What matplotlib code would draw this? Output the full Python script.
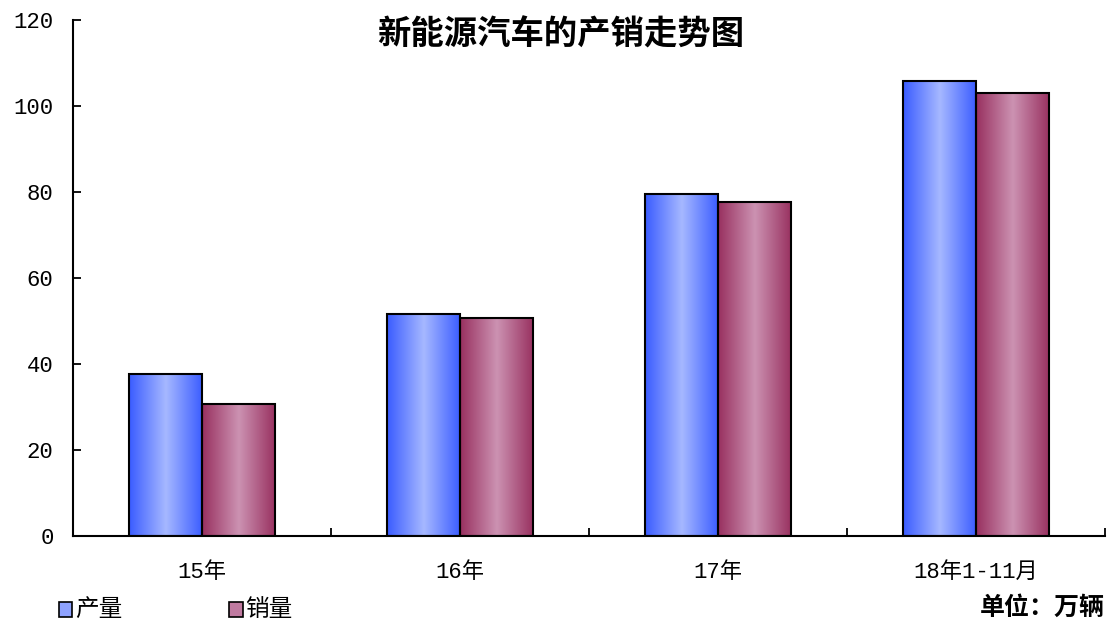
import numpy as np
import matplotlib
matplotlib.use('Agg')
import matplotlib.pyplot as plt
from matplotlib.colors import LinearSegmentedColormap
from matplotlib.patches import Rectangle

plt.rcParams['font.family'] = ['Noto Sans CJK SC', 'DejaVu Sans']

categorias = ['15年', '16年', '17年', '18年1-11月']
producao = [37.7, 51.6, 79.5, 105.8]   # 产量
vendas = [30.7, 50.7, 77.7, 103.0]     # 销量
yticks = [0, 20, 40, 60, 80, 100, 120]

# gradientes das barras (borda escura, centro claro)
cmap_azul = LinearSegmentedColormap.from_list('azul', ['#3a5cff', '#a6b8ff', '#3a5cff'])
cmap_vinho = LinearSegmentedColormap.from_list('vinho', ['#98305f', '#cc92b2', '#98305f'])

fonte_eixo = ['Liberation Mono', 'Noto Sans CJK SC']

fig = plt.figure(figsize=(11.1, 6.26), dpi=100)
ax = fig.add_axes([0.0658, 0.1438, 0.9297, 0.8242])

x = np.arange(len(categorias))
larg = 0.283
grad = np.linspace(0, 1, 256).reshape(1, -1)

def barras_gradiente(pos, valores, cmap):
    bars = ax.bar(pos, valores, width=larg, color='none', edgecolor='black', linewidth=1.5, zorder=3)
    for b in bars:
        x0, y0 = b.get_x(), b.get_y()
        w, h = b.get_width(), b.get_height()
        im = ax.imshow(grad, cmap=cmap, aspect='auto', extent=[x0, x0 + w, y0, y0 + h], zorder=2)
        clip = Rectangle((x0, y0), w, h, transform=ax.transData)
        im.set_clip_path(clip)
    return bars

barras_gradiente(x - larg / 2, producao, cmap_azul)
barras_gradiente(x + larg / 2, vendas, cmap_vinho)

ax.set_xlim(-0.5, len(categorias) - 0.5)
ax.set_ylim(0, 120)
ax.set_yticks(yticks)
ax.set_yticklabels([str(v) for v in yticks], fontsize=16, family=fonte_eixo)
ax.tick_params(axis='y', direction='in', length=6, width=1.3, pad=14)

# ticks de separacao (maiores) e rotulos das categorias (menores)
ax.set_xticks(np.arange(0.5, len(categorias), 1.0))
ax.set_xticklabels([])
ax.tick_params(axis='x', which='major', direction='in', length=6, width=1.3)
ax.set_xticks(x, minor=True)
ax.set_xticklabels(categorias, minor=True, fontsize=16, family=fonte_eixo)
ax.tick_params(axis='x', which='minor', length=0, pad=19)

for s in ['top', 'right']:
    ax.spines[s].set_visible(False)
ax.spines['left'].set_linewidth(1.5)
ax.spines['bottom'].set_linewidth(1.5)

fig.text(0.505, 0.944, '新能源汽车的产销走势图', ha='center', va='center', fontsize=24, fontweight='bold')

# legenda embaixo
fig.patches.append(Rectangle((0.053, 0.014), 0.012, 0.024, transform=fig.transFigure,
                             facecolor='#8ea2ff', edgecolor='black', linewidth=1.2))
fig.text(0.068, 0.026, '产量', ha='left', va='center', fontsize=17)
fig.patches.append(Rectangle((0.2065, 0.014), 0.012, 0.024, transform=fig.transFigure,
                             facecolor='#c07aa0', edgecolor='black', linewidth=1.2))
fig.text(0.221, 0.026, '销量', ha='left', va='center', fontsize=17)
fig.text(0.995, 0.029, '单位：万辆', ha='right', va='center', fontsize=18, fontweight='bold')

fig.savefig('out.png', dpi=100)
